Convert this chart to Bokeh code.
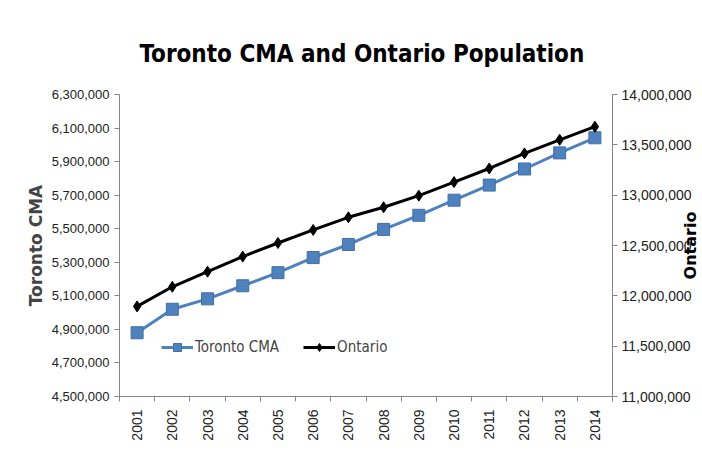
from bokeh.plotting import figure
from bokeh.models import (Range1d, LinearAxis, FixedTicker, NumeralTickFormatter,
                          Legend, LegendItem, Label)
from bokeh.embed import file_html
from bokeh.resources import INLINE
import math

years = [2001, 2002, 2003, 2004, 2005, 2006, 2007, 2008, 2009, 2010, 2011, 2012, 2013, 2014]
toronto = [4880000, 5020000, 5082000, 5160000, 5238000, 5328000, 5406000, 5496000,
           5580000, 5670000, 5760000, 5856000, 5952000, 6042000]
ontario = [11895000, 12090000, 12240000, 12390000, 12525000, 12655000, 12780000,
           12880000, 12995000, 13130000, 13265000, 13415000, 13550000, 13680000]
left_ticks = [4500000, 4700000, 4900000, 5100000, 5300000, 5500000, 5700000, 5900000, 6100000, 6300000]
right_ticks = [11000000, 11500000, 12000000, 12500000, 13000000, 13500000, 14000000]

TFONT = "DejaVu Sans Condensed"
BLUE = "#4F81BD"
AXIS_GRAY = "#868686"

p = figure(width=702, height=445, output_backend="svg", toolbar_location=None,
           x_range=Range1d(years[0] - 0.5, years[-1] + 0.5),
           y_range=Range1d(left_ticks[0], left_ticks[-1]),
           min_border_left=119, min_border_right=90, min_border_top=94, min_border_bottom=49)
p.title.text = "Toronto CMA and Ontario Population"
p.title.text_font = TFONT
p.title.text_font_size = "24px"
p.title.text_font_style = "bold"
p.title.align = "left"
p.title.offset = 20
p.title.text_color = "#000000"
p.title.standoff = 53
p.outline_line_color = None
p.xgrid.visible = False
p.ygrid.visible = False
p.background_fill_color = "white"
p.border_fill_color = "white"

p.extra_y_ranges = {"ont": Range1d(right_ticks[0], right_ticks[-1])}

# x axis
xa = p.xaxis[0]
xa.ticker = FixedTicker(ticks=years, minor_ticks=[y - 0.5 for y in years] + [years[-1] + 0.5])
xa.major_label_orientation = math.pi / 2
xa.major_tick_out = 0
xa.major_tick_in = 0
xa.minor_tick_out = 5
xa.minor_tick_in = 0
xa.minor_tick_line_color = AXIS_GRAY
xa.axis_line_color = AXIS_GRAY
xa.major_label_text_font = "Liberation Sans"
xa.major_label_text_font_size = "14px"
xa.major_label_text_color = "#222222"
xa.major_label_standoff = 8

# left axis
ya = p.yaxis[0]
ya.ticker = FixedTicker(ticks=left_ticks)
ya.formatter = NumeralTickFormatter(format="0,0")
ya.axis_label = "Toronto CMA"
ya.axis_label_text_font = "DejaVu Sans"
ya.axis_label_text_font_style = "bold"
ya.axis_label_text_font_size = "17px"
ya.axis_label_standoff = 3
ya.major_label_text_font = "Liberation Sans"
ya.major_label_text_font_size = "13px"
ya.major_label_text_color = "#222222"
ya.major_tick_out = 5
ya.major_tick_in = 0
ya.minor_tick_out = 0
ya.minor_tick_in = 0
ya.axis_line_color = AXIS_GRAY
ya.major_tick_line_color = AXIS_GRAY

# right axis
ra = LinearAxis(y_range_name="ont", ticker=FixedTicker(ticks=right_ticks),
                formatter=NumeralTickFormatter(format="0,0"))
ra.major_label_text_font = "Liberation Sans"
ra.major_label_text_font_size = "14px"
ra.major_label_text_color = "#222222"
ra.major_label_standoff = 4
ra.major_tick_out = 5
ra.major_tick_in = 0
ra.minor_tick_out = 0
ra.minor_tick_in = 0
ra.axis_line_color = AXIS_GRAY
ra.major_tick_line_color = AXIS_GRAY
p.add_layout(ra, "right")

# right axis title: drawn in data coordinates beyond the frame's right edge;
# hosted in the (roomy) left side panel so it is neither clipped nor squeezes the frame
ont_label = Label(x=years[-1] + 2.72, y=(left_ticks[0] + left_ticks[-1]) / 2, text="Ontario",
                  angle=math.pi / 2, text_align="center", text_baseline="middle",
                  text_font="DejaVu Sans", text_font_style="bold", text_font_size="16px",
                  text_color="#000000")
p.add_layout(ont_label, "left")

# series
tl = p.line(years, toronto, line_color=BLUE, line_width=3)
ts = p.scatter(years, toronto, marker="square", size=12, fill_color=BLUE, line_color="#3f6fa8")
ol = p.line(years, ontario, line_color="black", line_width=3, y_range_name="ont")
os_ = p.scatter(years, ontario, marker="diamond", size=11, fill_color="black", line_color="black",
                y_range_name="ont")

legend = Legend(items=[LegendItem(label="Toronto CMA", renderers=[tl, ts]),
                       LegendItem(label="Ontario", renderers=[ol, os_])],
                location=(42, 39), orientation="horizontal")
legend.border_line_color = None
legend.background_fill_alpha = 0
legend.padding = 0
legend.margin = 0
legend.spacing = 24
legend.glyph_width = 32
legend.glyph_height = 20
legend.label_height = 20
legend.label_standoff = 2
legend.label_text_font = TFONT
legend.label_text_font_size = "15px"
p.add_layout(legend, "center")

open("out.html", "w").write(file_html(p, INLINE))
